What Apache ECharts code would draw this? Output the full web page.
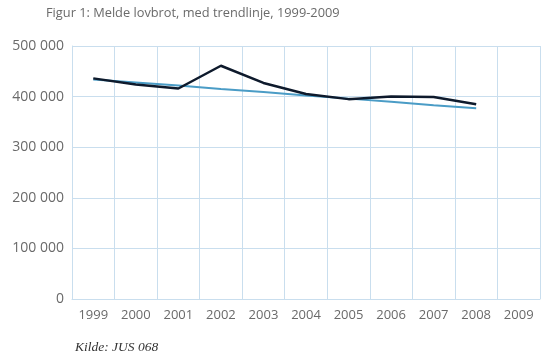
<!DOCTYPE html>
<html><head><meta charset="utf-8">
<script src="https://cdn.jsdelivr.net/npm/echarts@6/dist/echarts.min.js"></script>
<style>html,body{margin:0;padding:0;background:#fff}#c{width:557px;height:361px}</style>
</head><body><div id="c"></div>
<script>
var years = ['1999','2000','2001','2002','2003','2004','2005','2006','2007','2008','2009'];
var reported = [436000, 424000, 416000, 461000, 427000, 405000, 395000, 400000, 399000, 385000, null];
var trend = [434000, 428000, 422000, 415000, 409000, 402000, 396000, 390000, 383000, 377000, null];
var yTicks = [0, 100000, 200000, 300000, 400000, 500000];

var chart = echarts.init(document.getElementById('c'), null, {renderer:'canvas'});
var gridCol = '#c9deee';
var sans = '"Open Sans", Lato, sans-serif';
chart.setOption({
  animation:false,
  backgroundColor:'#fff',
  graphic:[
    {type:'text', left:46, top:7, style:{text:'Figur 1: Melde lovbrot, med trendlinje, 1999-2009', font:'12.8px "Open Sans", Lato, sans-serif', fill:'#6a6a6a'}},
    {type:'text', left:75, top:340, style:{text:'Kilde: JUS 068', font:'italic 13.5px "Liberation Serif", "DejaVu Serif", serif', fill:'#333'}}
  ],
  grid:{left:72, right:17, top:46, bottom:62, containLabel:false},
  xAxis:{type:'category', data:years, boundaryGap:true,
    axisLine:{show:true, lineStyle:{color:gridCol}}, axisTick:{show:false},
    axisLabel:{color:'#6a6a6a', fontSize:13, fontFamily:sans, margin:10, interval:0},
    splitLine:{show:true, interval:0, lineStyle:{color:gridCol, width:1}}},
  yAxis:{type:'value', min:0, max:500000, interval:100000,
    axisLine:{show:true, lineStyle:{color:gridCol}}, axisTick:{show:false},
    axisLabel:{color:'#6a6a6a', fontSize:14, fontFamily:sans, margin:8,
      formatter:function(v){ return yTicks.indexOf(v) >= 0 ? String(v).replace(/\B(?=(\d{3})+(?!\d))/g,' ') : ''; }},
    splitLine:{show:true, lineStyle:{color:gridCol, width:1}}},
  series:[
    {name:'Trend', type:'line', data:trend, symbol:'none', lineStyle:{color:'#4a9cc6', width:2}, z:2},
    {name:'Melde lovbrot', type:'line', data:reported, symbol:'none', lineStyle:{color:'#0e1a2c', width:2.5}, z:3}
  ]
});
</script></body></html>
